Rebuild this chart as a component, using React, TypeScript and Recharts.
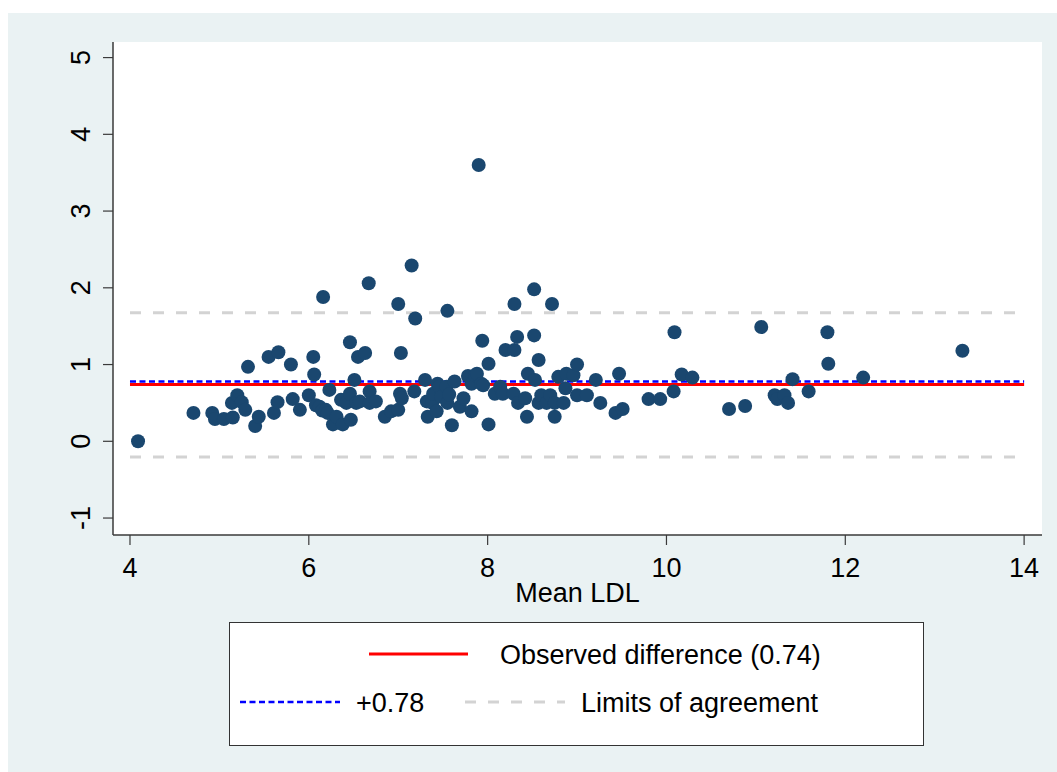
import { ScatterChart, Scatter, XAxis, YAxis, ReferenceLine } from 'recharts';

// Bland-Altman: mean LDL vs difference
const meanLdl = [
  4.09, 4.71, 4.92, 4.95, 5.05, 5.14, 5.15, 5.2, 5.25, 5.29, 5.32, 5.4, 5.44, 5.55, 5.61, 5.65,
  5.66, 5.8, 5.82, 5.9, 6.0, 6.05, 6.06, 6.08, 6.12, 6.15, 6.16, 6.19, 6.21, 6.23, 6.27, 6.31,
  6.36, 6.38, 6.42, 6.46, 6.46, 6.47, 6.51, 6.53, 6.55, 6.57, 6.63, 6.67, 6.68, 6.68, 6.75, 6.85,
  6.92, 7.0, 7.0, 7.02, 7.03, 7.04, 7.15, 7.19, 7.18, 7.3, 7.32, 7.33, 7.38, 7.39, 7.43, 7.44,
  7.46, 7.48, 7.54, 7.55, 7.55, 7.57, 7.6, 7.63, 7.69, 7.73, 7.78, 7.82, 7.82, 7.86, 7.88, 7.9,
  7.93, 7.94, 7.95, 8.01, 8.01, 8.08, 8.14, 8.17, 8.2, 8.29, 8.3, 8.3, 8.33, 8.34, 8.42, 8.44,
  8.45, 8.52, 8.52, 8.53, 8.57, 8.57, 8.6, 8.66, 8.7, 8.72, 8.75, 8.75, 8.79, 8.85, 8.87, 8.88,
  8.96, 9.0, 9.0, 9.11, 9.21, 9.26, 9.43, 9.47, 9.51, 9.8, 9.93, 10.08, 10.09, 10.17, 10.29, 10.7,
  10.88, 11.06, 11.21, 11.24, 11.32, 11.36, 11.41, 11.59, 11.8, 11.81, 12.2, 13.31,
];
const ldlDiff = [
  0.0, 0.37, 0.37, 0.29, 0.29, 0.5, 0.31, 0.6, 0.51, 0.41, 0.97, 0.2, 0.32, 1.1, 0.37, 0.51,
  1.16, 1.0, 0.55, 0.41, 0.6, 1.1, 0.87, 0.47, 0.45, 0.4, 1.88, 0.41, 0.37, 0.67, 0.22, 0.32,
  0.54, 0.22, 0.5, 1.29, 0.62, 0.28, 0.8, 0.5, 1.1, 0.52, 1.15, 2.06, 0.65, 0.5, 0.52, 0.32,
  0.39, 0.41, 1.79, 0.62, 1.15, 0.56, 2.29, 1.6, 0.65, 0.8, 0.52, 0.32, 0.5, 0.62, 0.39, 0.75,
  0.71, 0.58, 0.71, 1.7, 0.5, 0.61, 0.21, 0.78, 0.45, 0.56, 0.85, 0.39, 0.75, 0.86, 0.88, 3.6,
  0.75, 1.31, 0.73, 1.01, 0.22, 0.62, 0.71, 0.62, 1.19, 0.62, 1.19, 1.79, 1.36, 0.5, 0.56, 0.32,
  0.88, 1.98, 1.38, 0.8, 1.06, 0.5, 0.6, 0.5, 0.6, 1.79, 0.5, 0.32, 0.84, 0.5, 0.69, 0.88,
  0.86, 1.0, 0.6, 0.6, 0.8, 0.5, 0.37, 0.88, 0.42, 0.55, 0.55, 0.65, 1.42, 0.87, 0.83, 0.42,
  0.46, 1.49, 0.6, 0.55, 0.6, 0.5, 0.81, 0.65, 1.42, 1.01, 0.83, 1.18,
];

const xTicks = [4, 6, 8, 10, 12, 14];
const yTicks = [-1, 0, 1, 2, 3, 4, 5];
const xDomain = [3.81, 14.2];
const yDomain = [-1.221, 5.203];

const meanDiff = 0.74;
const upperDiff = 0.78;
const loaUpper = 1.675;
const loaLower = -0.205;
const lineFrom = 4;
const lineTo = 14;

const points = meanLdl.map((x, i) => ({ x, y: ldlDiff[i] }));

const FONT = '"Liberation Sans", Arial, sans-serif';
const FS = 27;
const AXIS = '#3a3a3a';
const NAVY = '#1a476f';

function Dot(props: any) {
  const { cx, cy } = props;
  if (cx == null || cy == null) return null;
  return <circle cx={cx} cy={cy} r={7} fill={NAVY} />;
}

function XTick(props: any) {
  const { x, y, payload } = props;
  return (
    <text x={x} y={y + 32} textAnchor="middle" fontSize={FS} fontFamily={FONT} fill="#000">
      {payload.value}
    </text>
  );
}

function YTick(props: any) {
  const { x, y, payload } = props;
  const tx = x - 13;
  return (
    <text
      x={tx}
      y={y}
      textAnchor="middle"
      fontSize={FS}
      fontFamily={FONT}
      fill="#000"
      transform={`rotate(-90, ${tx}, ${y})`}
    >
      {payload.value}
    </text>
  );
}

function XTitle(props: any) {
  const vb = props.viewBox;
  return (
    <text
      x={vb.x + vb.width / 2}
      y={vb.y + 67}
      textAnchor="middle"
      fontSize={FS}
      fontFamily={FONT}
      fill="#000"
    >
      Mean LDL
    </text>
  );
}

function LegendBox() {
  return (
    <div
      style={{
        position: 'absolute',
        left: 221,
        top: 609,
        width: 695,
        height: 124,
        background: '#fff',
        border: '1.5px solid #333',
        boxSizing: 'border-box',
      }}
    >
      <svg width={695} height={124} style={{ position: 'absolute', left: -1.5, top: -1.5 }}>
        <line x1={140} x2={239} y1={32} y2={32} stroke="#ff0000" strokeWidth={3} />
        <text x={271} y={42} fontSize={FS} fontFamily={FONT} fill="#000">
          Observed difference (0.74)
        </text>
        <line x1={11} x2={111} y1={80} y2={80} stroke="#0000ff" strokeWidth={2.5} strokeDasharray="6 3.5" />
        <text x={127} y={90} fontSize={FS} fontFamily={FONT} fill="#000">
          +0.78
        </text>
        <line x1={236} x2={336} y1={80} y2={80} stroke="#d3d3d3" strokeWidth={3} strokeDasharray="11 12" />
        <text x={352} y={90} fontSize={FS} fontFamily={FONT} fill="#000">
          Limits of agreement
        </text>
      </svg>
    </div>
  );
}

export default function App() {
  return (
    <div
      style={{
        position: 'absolute',
        left: 8,
        top: 13,
        width: 1049,
        height: 759,
        background: '#eaf2f3',
      }}
    >
      <ScatterChart width={1049} height={759} margin={{ top: 29, right: 15, bottom: 0, left: 0 }}>
        <rect x={105} y={29} width={929} height={493} fill="#fff" />
        <XAxis
          type="number"
          dataKey="x"
          domain={xDomain}
          ticks={xTicks}
          allowDataOverflow
          height={237}
          tickSize={10}
          tickMargin={0}
          axisLine={{ stroke: AXIS, strokeWidth: 1.5 }}
          tickLine={{ stroke: AXIS, strokeWidth: 1.2 }}
          tick={<XTick />}
          label={<XTitle />}
        />
        <YAxis
          type="number"
          dataKey="y"
          domain={yDomain}
          ticks={yTicks}
          allowDataOverflow
          width={105}
          tickSize={10}
          tickMargin={0}
          axisLine={{ stroke: AXIS, strokeWidth: 1.5 }}
          tickLine={{ stroke: AXIS, strokeWidth: 1.2 }}
          tick={<YTick />}
        />
        <Scatter data={points} shape={<Dot />} isAnimationActive={false} />
        <ReferenceLine
          segment={[{ x: lineFrom, y: loaUpper }, { x: lineTo, y: loaUpper }]}
          stroke="#d3d3d3"
          strokeWidth={3}
          strokeDasharray="11 12"
        />
        <ReferenceLine
          segment={[{ x: lineFrom, y: loaLower }, { x: lineTo, y: loaLower }]}
          stroke="#d3d3d3"
          strokeWidth={3}
          strokeDasharray="11 12"
        />
        <ReferenceLine
          segment={[{ x: lineFrom, y: meanDiff }, { x: lineTo, y: meanDiff }]}
          stroke="#ff0000"
          strokeWidth={3}
        />
        <ReferenceLine
          segment={[{ x: lineFrom, y: upperDiff }, { x: lineTo, y: upperDiff }]}
          stroke="#0000ff"
          strokeWidth={2.5}
          strokeDasharray="6 3.5"
        />
      </ScatterChart>
      <LegendBox />
    </div>
  );
}
